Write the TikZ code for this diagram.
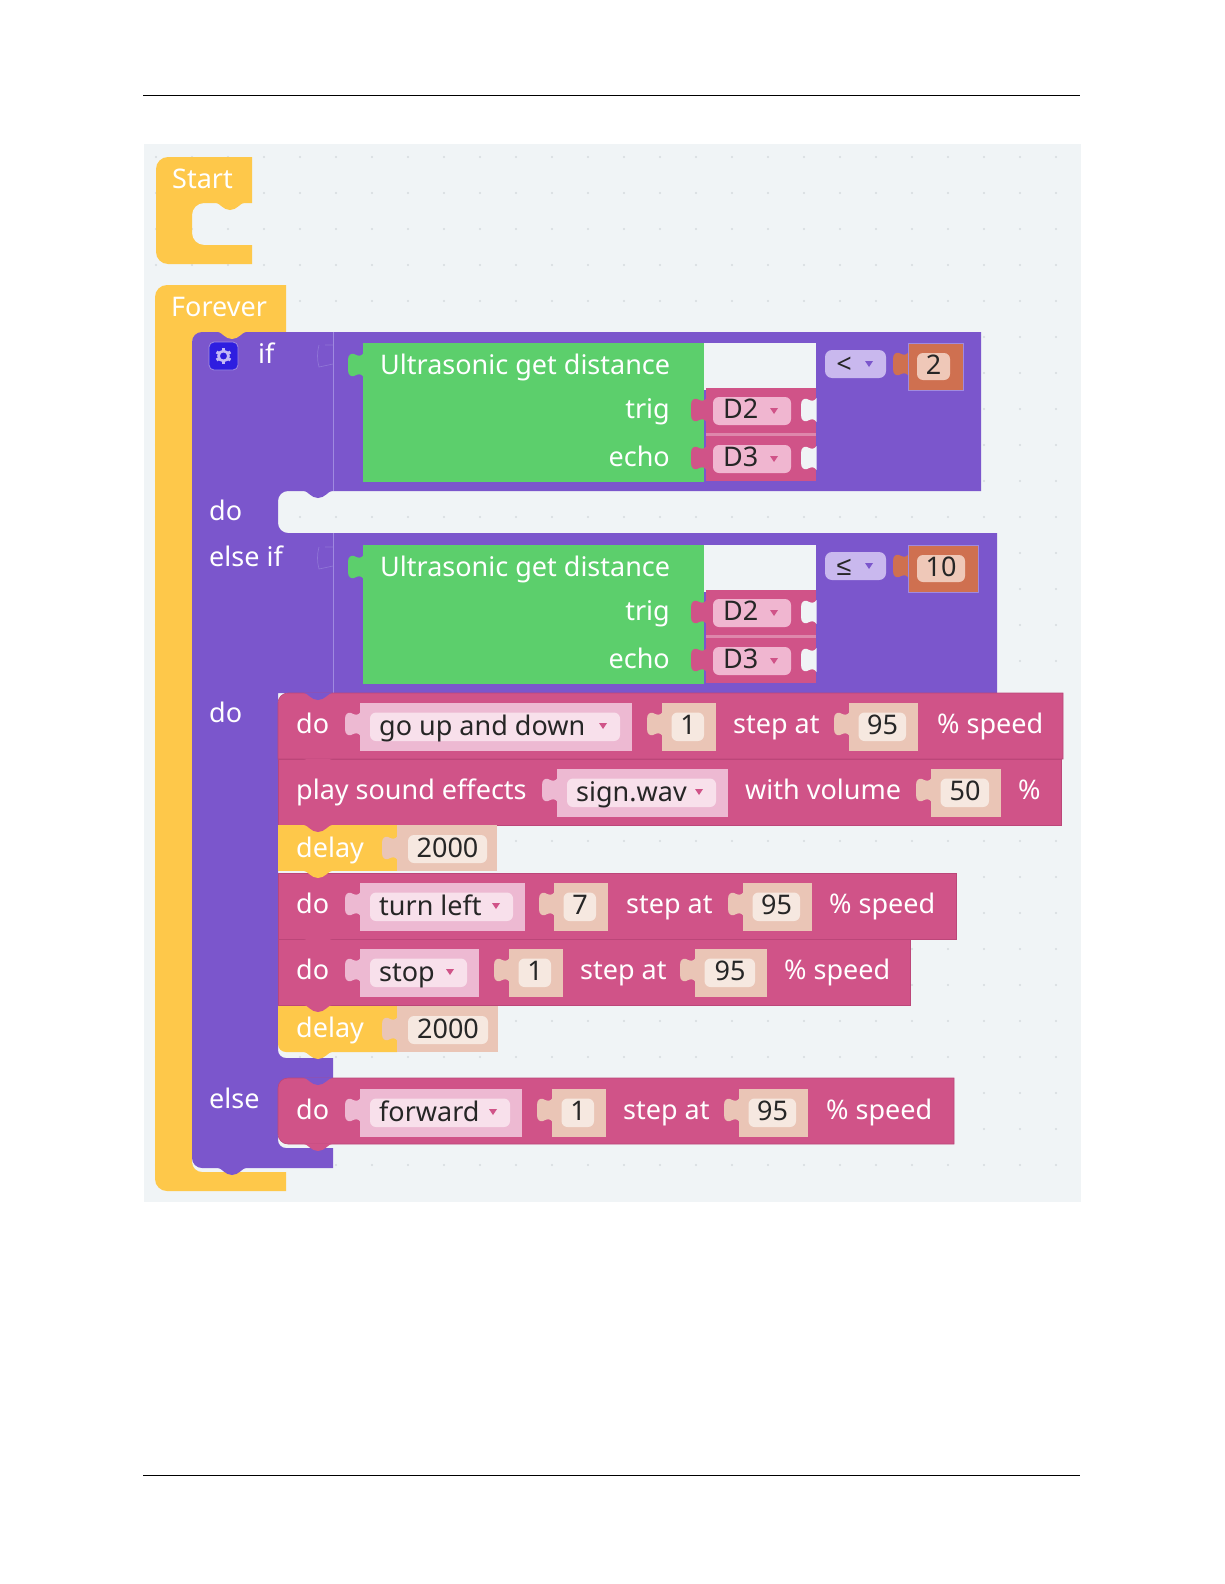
\documentclass[tikz,border=0pt]{standalone}
\usepackage{fontspec}
\setmainfont{Noto Sans}
\newfontfamily\opfont{Liberation Sans}
\usepackage{tikz}
\usetikzlibrary{positioning}
\definecolor{panelbg}{HTML}{F0F4F6}
\definecolor{griddot}{HTML}{D6DBDE}
\definecolor{startyel}{HTML}{FEC84A}
\definecolor{ifpurple}{HTML}{7B56CC}
\definecolor{ifline}{HTML}{A08AE0}
\definecolor{iffaint}{HTML}{8F75D6}
\definecolor{sensegreen}{HTML}{5CCF6C}
\definecolor{motorpink}{HTML}{D05388}
\definecolor{pinkedge}{HTML}{BC4679}
\definecolor{numorange}{HTML}{CF7050}
\definecolor{numfield}{HTML}{EFC8B8}
\definecolor{valueout}{HTML}{EAC5B6}
\definecolor{valuein}{HTML}{F6E8E0}
\definecolor{dropout}{HTML}{EDB9D2}
\definecolor{dropin}{HTML}{F8E0EB}
\definecolor{pinfield}{HTML}{F0B6D0}
\definecolor{opfield}{HTML}{C9B8EE}
\definecolor{gearblue}{HTML}{2E1EE0}
\definecolor{gearring}{HTML}{C4BAF5}
\newcommand{\lefttab}[3]{\fill[#1,shift={(#2,#3)}] (0.5,0) .. controls (-2,4) and (-5,3) .. (-9,1)
  .. controls (-12,0) and (-15,2) .. (-15,7) -- (-15,17) .. controls (-15,22) and (-12,24) .. (-9,23)
  .. controls (-5,21) and (-2,20) .. (0.5,24) -- cycle;}
\newcommand{\downbump}[3]{\fill[#1,shift={(#2,#3)}] (-15,-0.5) .. controls (-10,0) and (-7,7) .. (0,7)
  .. controls (7,7) and (10,0) .. (15,-0.5) -- cycle;}
\newcommand{\droptri}[3]{\fill[#1,shift={(#2,#3)}] (-4,-3) -- (4,-3) -- (0,3) -- cycle;}
% value block: name, left, right, top, bottom, text
\newcommand{\valblock}[6]{%
  \lefttab{valueout}{#2}{#4+9}
  \fill[valueout] (#2,#4) rectangle (#3,#5);
  \fill[valuein, rounded corners=6pt] (#2+9.5,#4+9.5) rectangle (#3-12,#4+38);
  \node[fieldtext] (#1) at ({(#2+#3)/2-1},#4+31) {#6};}
% dropdown block: name, left, right, top, text
\newcommand{\dropblock}[5]{%
  \lefttab{dropout}{#2}{#4+9}
  \fill[dropout] (#2,#4) rectangle (#3,#4+48);
  \fill[dropin, rounded corners=6pt] (#2+10,#4+9.5) rectangle (#3-12,#4+38);
  \droptri{motorpink}{#3-29}{#4+23}
  \node[fieldtext, anchor=base west] (#1) at (#2+19,#4+32) {#5};}
% pin block: name, top, text
\newcommand{\pinblock}[3]{%
  \fill[motorpink] (706,#2) rectangle (816,#2+45);
  \lefttab{motorpink}{706}{#2+10}
  \fill[pinfield, rounded corners=6pt] (713,#2+9) rectangle (791,#2+37);
  \droptri{motorpink}{774}{#2+23}
  \lefttab{panelbg}{816}{#2+10}
  \node[fieldtext, anchor=base west] (#1) at (723,#2+30) {#3};}
\begin{document}
\begin{tikzpicture}[x=1pt, y=-1pt,
  blocktext/.style={inner sep=0pt, anchor=base west, text=white, font=\fontsize{27}{30}\selectfont},
  fieldtext/.style={inner sep=0pt, anchor=base, text=black!85, font=\fontsize{27}{30}\selectfont},
  endtext/.style={blocktext, anchor=base east},
  rowblock/.style={fill=motorpink, draw=pinkedge, line width=0.6pt}]
\useasboundingbox (0,0) rectangle (1224,1584);
\draw[line width=0.7pt] (143,95) -- (1080,95);
\draw[line width=0.7pt] (143,1475) -- (1080,1475);
\fill[panelbg] (144,144) rectangle (1081,1202);
\foreach \dx in {156,192,...,1060}
  \foreach \dy in {157,193,...,1195}
    \fill[griddot] (\dx,\dy) circle (1.2pt);

\fill[startyel] (252,157) [rounded corners=12pt] -- (156,157) -- (156,264) [sharp corners] -- (252,264)
  -- (252,245) [rounded corners=12pt] -- (192,245) -- (192,203) [sharp corners] -- (252,203) -- cycle;
\downbump{startyel}{230}{203}
\node[blocktext] (start) at (172,188) {Start};

\fill[startyel] (286,285) [rounded corners=12pt] -- (155,285) -- (155,1191) [sharp corners] -- (286,1191)
  -- (286,1172) [rounded corners=10pt] -- (192,1172) [sharp corners] -- (192,340) -- (286,340) -- cycle;
\node[blocktext] (forever) at (171,316) {Forever};

\fill[ifpurple] (981,332) [rounded corners=10pt] -- (192,332) -- (192,1168) [sharp corners] -- (333,1168)
  -- (333,1148) [rounded corners=8pt] -- (278,1148) [sharp corners] -- (278,1078) -- (333,1078) -- (333,1058)
  [rounded corners=8pt] -- (278,1058) [sharp corners] -- (278,693) -- (997,693) -- (997,533)
  [rounded corners=10pt] -- (278,533) -- (278,491) [sharp corners] -- (981,491) -- cycle;
\fill[ifpurple] (272,1074) rectangle (296,1096);
\downbump{startyel}{232}{332}
\downbump{ifpurple}{232}{1168}
\downbump{ifpurple}{318}{491}
\draw[ifline, line width=1pt] (333,332) -- (333,491);
\draw[ifline, line width=1pt] (333,533) -- (333,693);
\draw[iffaint, line width=0.7pt] (333,345) -- (325,345) (319,345) .. controls (317,352) and (317,360) .. (319,367) -- (333,364);
\draw[iffaint, line width=0.7pt] (333,547) -- (325,547) (319,547) .. controls (317,554) and (317,562) .. (319,569) -- (333,566);

\fill[gearblue, draw=ifline, line width=0.8pt, rounded corners=5pt] (209,342) rectangle (238,370);
\draw[gearring, line width=2.6pt] (223.5,356) circle (5pt);
\foreach \ga in {30,90,...,330}
  \draw[gearring, line width=3pt] (223.5,356) ++(\ga:5.5pt) -- ++(\ga:2.5pt);
\node[blocktext] (ifa) at (258,363) {if};
\node[blocktext] (doa) at (209,520) {do};
\node[blocktext] (elseif) at (209,566) {else if};
\node[blocktext] (dob) at (209,722) {do};
\node[blocktext] (elsec) at (209,1108) {else};

\foreach \oy/\opname/\opsym/\numname/\numtext/\numright in {0/opa/{<}/numa/2/963, 202/opb/{{\opfont ≤}}/numb/10/978} {
  \fill[panelbg] (704,343+\oy) rectangle (816,390+\oy);
  \fill[sensegreen] (363,343+\oy) rectangle (704,482+\oy);
  \lefttab{sensegreen}{363}{353+\oy}
  \node[blocktext] at (380,374+\oy) {Ultrasonic get distance};
  \node[endtext] at (670,418+\oy) {trig};
  \node[endtext] at (670,466+\oy) {echo};
  \fill[motorpink!70!white] (706,388+\oy) rectangle (816,481+\oy);
  \pinblock{pin\oy a}{388+\oy}{D2}
  \pinblock{pin\oy b}{436+\oy}{D3}
  \fill[opfield, rounded corners=7pt] (825,350+\oy) rectangle (886,378+\oy);
  \droptri{ifpurple}{869}{364+\oy}
  \node[fieldtext] (\opname) at (844,373+\oy) {\opsym};
  \lefttab{numorange}{908}{352+\oy}
  \fill[numorange, draw=ifline, line width=0.5pt] (908,343+\oy) rectangle (\numright,390+\oy);
  \fill[numfield, rounded corners=6pt] (917,353+\oy) rectangle (\numright-13,380+\oy);
  \node[fieldtext] (\numname) at ({(917+\numright-13)/2},374+\oy) {\numtext};
}

\fill[rowblock] (1063,693) [rounded corners=10pt] -- (278,693) [sharp corners] -- (278,759) -- (1063,759) -- cycle;
\downbump{ifpurple}{318}{693}
\fill[rowblock] (278,759) rectangle (1061,825);
\downbump{motorpink}{318}{759}
\node[blocktext] (doc) at (296,733) {do};
\dropblock{gofield}{360}{632}{703}{go up and down}
\valblock{stepa}{662}{716}{703}{751}{1}
\node[blocktext] (stepata) at (733,733) {step at};
\valblock{speeda}{849}{918}{703}{751}{95}
\node[blocktext] (speedta) at (937,733) {\% speed};

\node[blocktext] (play) at (296,799) {play sound effects};
\dropblock{soundfield}{557}{728}{769}{sign.wav}
\node[blocktext] (withvol) at (745,799) {with volume};
\valblock{volume}{931}{1001}{769}{817}{50}
\node[blocktext] (percent) at (1018,799) {\%};

\fill[startyel] (278,825) rectangle (397,871);
\downbump{motorpink}{318}{825}
\node[blocktext] (delaya) at (296,857) {delay};
\fill[valueout] (397,825) rectangle (497,871);
\lefttab{valueout}{397}{836}
\fill[valuein, rounded corners=6pt] (408,835) rectangle (487,863);
\node[fieldtext] (waita) at (447.5,857) {2000};

\fill[rowblock] (278,873) rectangle (956,939);
\downbump{startyel}{318}{871}
\node[blocktext] (dod) at (296,913) {do};
\dropblock{turnfield}{360}{525}{883}{turn left}
\valblock{stepb}{554}{608}{883}{931}{7}
\node[blocktext] (stepatb) at (626,913) {step at};
\valblock{speedb}{743}{812}{883}{931}{95}
\node[blocktext] (speedtb) at (829,913) {\% speed};

\fill[rowblock] (278,939) rectangle (910,1005);
\downbump{motorpink}{318}{939}
\node[blocktext] (doe) at (296,979) {do};
\dropblock{stopfield}{360}{479}{949}{stop}
\valblock{stepc}{509}{563}{949}{997}{1}
\node[blocktext] (stepatc) at (580,979) {step at};
\valblock{speedc}{695}{767}{949}{997}{95}
\node[blocktext] (speedtc) at (784,979) {\% speed};

\fill[startyel] (397,1006) -- (278,1006) [rounded corners=8pt] -- (278,1052) [sharp corners] -- (397,1052) -- cycle;
\downbump{motorpink}{318}{1005}
\downbump{startyel}{318}{1052}
\node[blocktext] (delayb) at (296,1037) {delay};
\fill[valueout] (397,1006) rectangle (498,1052);
\lefttab{valueout}{397}{1017}
\fill[valuein, rounded corners=6pt] (408,1016) rectangle (488,1044);
\node[fieldtext] (waitb) at (448,1038) {2000};

\fill[rowblock] (954,1078) [rounded corners=10pt] -- (278,1078) -- (278,1144) [sharp corners] -- (954,1144) -- cycle;
\downbump{ifpurple}{318}{1078}
\downbump{motorpink}{318}{1144}
\node[blocktext] (dof) at (296,1119) {do};
\dropblock{forwardfield}{360}{522}{1089}{forward}
\valblock{stepd}{552}{606}{1089}{1137}{1}
\node[blocktext] (stepatd) at (623,1119) {step at};
\valblock{speedd}{739}{808}{1089}{1137}{95}
\node[blocktext] (speedtd) at (826,1119) {\% speed};
\end{tikzpicture}
\end{document}
